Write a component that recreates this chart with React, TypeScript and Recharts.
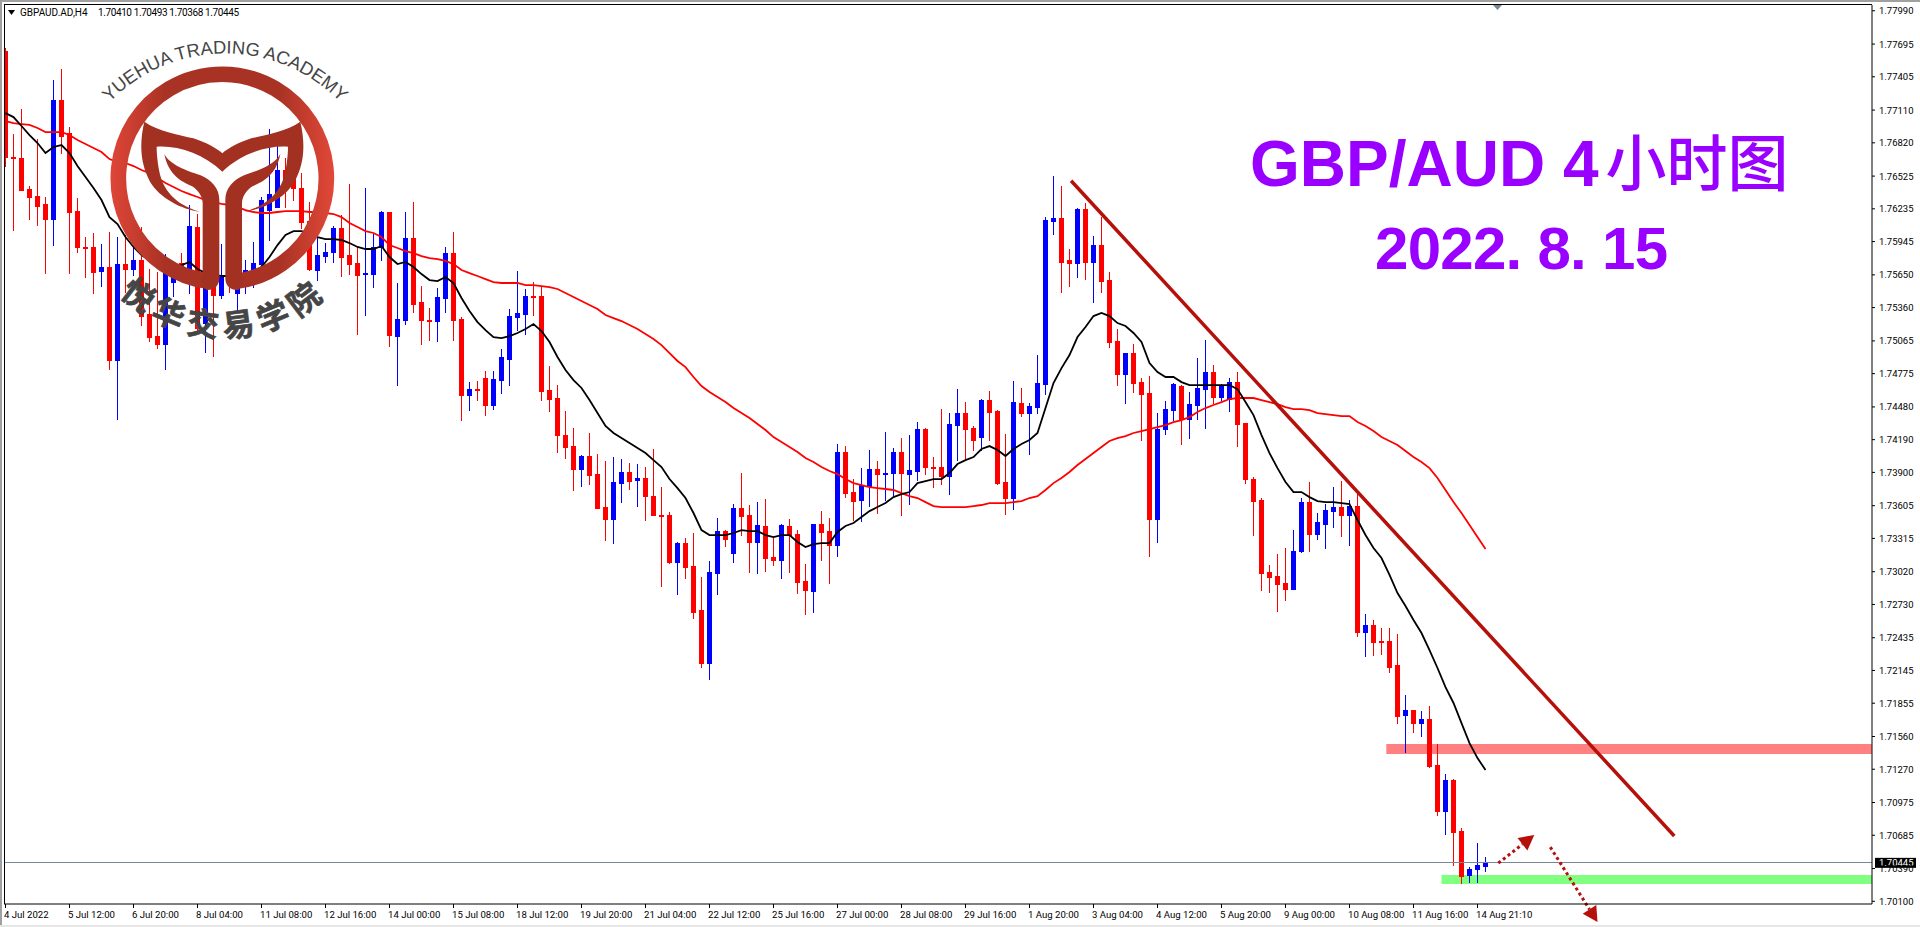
import React from "react";
import {
  ComposedChart,
  Bar,
  Line,
  XAxis,
  YAxis,
  ReferenceArea,
  ReferenceLine,
} from "recharts";

const opens = [
  1.77633, 1.76694, 1.76685, 1.76411, 1.76349, 1.76278, 1.76145, 1.77199, 1.76906, 1.76215,
  1.75897, 1.75897, 1.75684, 1.75719, 1.74895, 1.75746, 1.75702, 1.75781, 1.75303, 1.75108,
  1.75038, 1.75586, 1.75755, 1.75666, 1.76074, 1.75223, 1.75693, 1.75471, 1.75693, 1.7549,
  1.75604, 1.75631, 1.75746, 1.76224, 1.76251, 1.76579, 1.76552, 1.76419, 1.76127, 1.75693,
  1.75817, 1.75852, 1.76065, 1.75826, 1.75755, 1.75657, 1.75657, 1.75897, 1.76206, 1.75108,
  1.7525, 1.75977, 1.75409, 1.7525, 1.75241, 1.75445, 1.75843, 1.75259, 1.74586, 1.74639,
  1.74736, 1.74497, 1.74718, 1.74904, 1.75276, 1.75303, 1.75462, 1.75462, 1.7463, 1.74559,
  1.74231, 1.74133, 1.73929, 1.74045, 1.73885, 1.73593, 1.73487, 1.73805, 1.73903, 1.73832,
  1.7385, 1.7369, 1.73522, 1.73522, 1.73105, 1.73274, 1.7307, 1.7268, 1.72211, 1.73008,
  1.7338, 1.73185, 1.73584, 1.73522, 1.73283, 1.73425, 1.7315, 1.73123, 1.73425, 1.73354,
  1.72937, 1.72849, 1.73442, 1.7338, 1.73256, 1.7408, 1.73726, 1.73655, 1.73779, 1.73929,
  1.73885, 1.73894, 1.7408, 1.73885, 1.73912, 1.74284, 1.73947, 1.73947, 1.73868, 1.74319,
  1.74426, 1.74293, 1.74213, 1.74541, 1.74443, 1.73815, 1.73673, 1.74514, 1.74426, 1.74479,
  1.74683, 1.76127, 1.76154, 1.75781, 1.75755, 1.76233, 1.75764, 1.75914, 1.75604, 1.75064,
  1.74771, 1.74957, 1.747, 1.74603, 1.73487, 1.74284, 1.74452, 1.74665, 1.74373, 1.74497,
  1.74639, 1.74789, 1.74568, 1.7455, 1.747, 1.74337, 1.73841, 1.73655, 1.73017, 1.72981,
  1.72919, 1.72866, 1.73203, 1.73637, 1.73354, 1.73442, 1.73557, 1.73593, 1.73522, 1.73602,
  1.72485, 1.72548, 1.72406, 1.72406, 1.72193, 1.7175, 1.71794, 1.71679, 1.71714, 1.71307,
  1.709, 1.71174, 1.70722, 1.70332, 1.70385, 1.7041,
];

const closes = [
  1.76694, 1.76685, 1.76402, 1.7634, 1.7626, 1.76145, 1.77199, 1.7688, 1.76206, 1.75897,
  1.75888, 1.75675, 1.75719, 1.74895, 1.75746, 1.75702, 1.75781, 1.75285, 1.75099, 1.75038,
  1.75693, 1.75711, 1.75702, 1.76082, 1.75179, 1.7556, 1.75471, 1.75631, 1.75648, 1.75631,
  1.75693, 1.75755, 1.76313, 1.76366, 1.76579, 1.76419, 1.76419, 1.76118, 1.75702, 1.75826,
  1.75852, 1.76065, 1.75808, 1.75746, 1.75648, 1.75666, 1.75897, 1.76206, 1.75117, 1.75259,
  1.75977, 1.75392, 1.7525, 1.75241, 1.75454, 1.75843, 1.7525, 1.74586, 1.74639, 1.7463,
  1.74497, 1.74727, 1.74922, 1.75285, 1.75312, 1.75462, 1.75454, 1.74621, 1.7455, 1.74231,
  1.74125, 1.73929, 1.74045, 1.73876, 1.73584, 1.73487, 1.73814, 1.73903, 1.73823, 1.7385,
  1.7369, 1.73522, 1.73513, 1.73105, 1.73274, 1.73061, 1.72662, 1.72211, 1.73017, 1.7338,
  1.7331, 1.73584, 1.73513, 1.73283, 1.73434, 1.73141, 1.73123, 1.73434, 1.73345, 1.72928,
  1.72858, 1.73442, 1.73371, 1.73256, 1.7408, 1.73717, 1.73646, 1.73788, 1.73929, 1.73885,
  1.73894, 1.7408, 1.73894, 1.73921, 1.74284, 1.73947, 1.73938, 1.73868, 1.74328, 1.74426,
  1.74284, 1.74187, 1.74541, 1.74434, 1.73805, 1.73673, 1.74523, 1.74426, 1.74488, 1.74692,
  1.76136, 1.76154, 1.75764, 1.75755, 1.76233, 1.75764, 1.75914, 1.75595, 1.75055, 1.74771,
  1.74957, 1.74692, 1.74594, 1.73487, 1.74284, 1.74461, 1.74683, 1.74373, 1.74505, 1.74647,
  1.74789, 1.74568, 1.74665, 1.747, 1.74328, 1.73841, 1.73646, 1.73008, 1.72973, 1.7291,
  1.72866, 1.73203, 1.73637, 1.73354, 1.7346, 1.73566, 1.73593, 1.73522, 1.73602, 1.72485,
  1.72548, 1.72397, 1.72397, 1.72175, 1.71741, 1.71794, 1.71679, 1.71714, 1.71298, 1.709,
  1.71174, 1.70714, 1.70323, 1.70385, 1.70421, 1.70445,
];

const highs = [
  1.7766, 1.76898, 1.77119, 1.76437, 1.76854, 1.7634, 1.77376, 1.77474, 1.7696, 1.76331,
  1.75985, 1.76021, 1.75923, 1.7603, 1.75985, 1.76003, 1.76047, 1.76074, 1.75702, 1.75675,
  1.75835, 1.75764, 1.75843, 1.76269, 1.76189, 1.75737, 1.75764, 1.75923, 1.75826, 1.75711,
  1.75781, 1.75941, 1.7634, 1.76942, 1.76818, 1.76685, 1.76667, 1.76552, 1.76295, 1.76021,
  1.75932, 1.76082, 1.7618, 1.76455, 1.75897, 1.76419, 1.76012, 1.76215, 1.76206, 1.75578,
  1.76206, 1.76295, 1.75551, 1.75356, 1.75533, 1.75897, 1.7603, 1.75276, 1.747, 1.74709,
  1.74798, 1.74798, 1.74993, 1.75347, 1.75684, 1.75525, 1.75586, 1.75542, 1.74842, 1.74674,
  1.74443, 1.74293, 1.74054, 1.74249, 1.74062, 1.74, 1.74036, 1.74018, 1.73983, 1.73974,
  1.73947, 1.74107, 1.7377, 1.73549, 1.73283, 1.73318, 1.73363, 1.72973, 1.73115, 1.73496,
  1.73389, 1.73619, 1.73894, 1.73611, 1.73637, 1.73664, 1.73327, 1.73442, 1.73487, 1.73389,
  1.73088, 1.73442, 1.73557, 1.73496, 1.74151, 1.74133, 1.73841, 1.73938, 1.74098, 1.74,
  1.74257, 1.74116, 1.74204, 1.74231, 1.74346, 1.74293, 1.74036, 1.74461, 1.74426, 1.74639,
  1.74523, 1.74311, 1.7455, 1.74621, 1.74452, 1.7424, 1.74709, 1.74647, 1.74514, 1.7494,
  1.76162, 1.76526, 1.76437, 1.75879, 1.76242, 1.76287, 1.75994, 1.76162, 1.75675, 1.7517,
  1.74957, 1.75038, 1.74736, 1.74754, 1.74426, 1.74532, 1.74692, 1.74674, 1.74612, 1.74913,
  1.75073, 1.74851, 1.74683, 1.74736, 1.74789, 1.74337, 1.73859, 1.73673, 1.73079, 1.73177,
  1.7323, 1.73389, 1.73673, 1.73815, 1.7354, 1.73619, 1.7377, 1.73824, 1.73655, 1.73708,
  1.72645, 1.72592, 1.72521, 1.72521, 1.72468, 1.71927, 1.71794, 1.71785, 1.7183, 1.71493,
  1.71227, 1.71183, 1.70748, 1.70403, 1.70616, 1.70493,
];

const lows = [
  1.76614, 1.76047, 1.76402, 1.76145, 1.76092, 1.75666, 1.75914, 1.76729, 1.75666, 1.75852,
  1.75631, 1.7549, 1.75551, 1.74816, 1.74373, 1.75498, 1.75648, 1.75206, 1.75064, 1.75002,
  1.74816, 1.75462, 1.75648, 1.7549, 1.75135, 1.74966, 1.74931, 1.75445, 1.75498, 1.75338,
  1.7549, 1.75542, 1.75675, 1.75959, 1.76251, 1.76251, 1.76313, 1.76065, 1.75693, 1.75604,
  1.75764, 1.75764, 1.7564, 1.75657, 1.75126, 1.75294, 1.75542, 1.75781, 1.7502, 1.74674,
  1.75214, 1.75321, 1.75038, 1.75073, 1.75064, 1.75321, 1.75073, 1.74364, 1.74452, 1.74541,
  1.74408, 1.74461, 1.74603, 1.74674, 1.75161, 1.75126, 1.75294, 1.74541, 1.74443, 1.7408,
  1.74027, 1.73744, 1.73779, 1.73797, 1.73584, 1.73301, 1.73274, 1.73637, 1.73753, 1.73602,
  1.73478, 1.73522, 1.72893, 1.73097, 1.72822, 1.72964, 1.72609, 1.72175, 1.72069, 1.72822,
  1.73248, 1.73105, 1.73345, 1.73017, 1.73008, 1.73026, 1.73079, 1.72964, 1.73017, 1.72831,
  1.72645, 1.72662, 1.73123, 1.72919, 1.73159, 1.73682, 1.73478, 1.73469, 1.73602, 1.7354,
  1.73655, 1.73699, 1.73522, 1.73619, 1.73832, 1.73885, 1.7377, 1.73797, 1.73708, 1.74009,
  1.74009, 1.74098, 1.74098, 1.74187, 1.73797, 1.73531, 1.73575, 1.74399, 1.74062, 1.74426,
  1.74594, 1.76012, 1.75498, 1.75551, 1.75631, 1.75613, 1.75409, 1.75498, 1.75011, 1.74674,
  1.74514, 1.74612, 1.74187, 1.73159, 1.73283, 1.7424, 1.74364, 1.74151, 1.74204, 1.74373,
  1.74293, 1.74514, 1.74541, 1.74443, 1.74133, 1.73805, 1.73345, 1.72858, 1.7284, 1.72671,
  1.72769, 1.72866, 1.73194, 1.73203, 1.7331, 1.7323, 1.73416, 1.73336, 1.73256, 1.7245,
  1.72273, 1.72282, 1.72291, 1.72131, 1.71679, 1.71422, 1.716, 1.71564, 1.7129, 1.70864,
  1.70696, 1.70421, 1.70262, 1.7027, 1.7027, 1.70368,
];

const blackMA = [
  1.77083, 1.77048, 1.76969, 1.76889, 1.76818, 1.76729, 1.76783, 1.768, 1.76729, 1.76614,
  1.76517, 1.76419, 1.76313, 1.76162, 1.761, 1.75985, 1.75897, 1.75826, 1.75781, 1.75755,
  1.75719, 1.75719, 1.75737, 1.75764, 1.75702, 1.75666, 1.75648, 1.7564, 1.7564, 1.7564,
  1.75648, 1.75675, 1.75719, 1.75808, 1.75914, 1.76003, 1.76038, 1.76038, 1.76021, 1.75985,
  1.75967, 1.75967, 1.75959, 1.75932, 1.75897, 1.75879, 1.75879, 1.75906, 1.75808, 1.75746,
  1.75764, 1.75719, 1.75657, 1.75604, 1.75595, 1.75631, 1.75578, 1.75445, 1.7533, 1.75232,
  1.75161, 1.75099, 1.7509, 1.75108, 1.75135, 1.7517, 1.75214, 1.75152, 1.75055, 1.74922,
  1.74807, 1.74718, 1.74648, 1.74541, 1.74426, 1.74311, 1.74249, 1.74204, 1.7416, 1.74116,
  1.74071, 1.74009, 1.73947, 1.73841, 1.73761, 1.73673, 1.7354, 1.73389, 1.73345, 1.73345,
  1.73345, 1.73363, 1.73389, 1.7338, 1.7338, 1.73345, 1.73327, 1.73345, 1.73345, 1.73283,
  1.73239, 1.73265, 1.73274, 1.73274, 1.73372, 1.73425, 1.73451, 1.73504, 1.73557, 1.73593,
  1.73628, 1.73681, 1.73708, 1.73726, 1.73805, 1.73823, 1.73841, 1.73841, 1.73894, 1.73974,
  1.74009, 1.74036, 1.74107, 1.74133, 1.74098, 1.74045, 1.74107, 1.74151, 1.74187, 1.74249,
  1.7447, 1.74692, 1.74824, 1.7494, 1.75099, 1.75188, 1.75285, 1.75312, 1.75285, 1.75223,
  1.75197, 1.75135, 1.75055, 1.74869, 1.74789, 1.74745, 1.74745, 1.747, 1.74674, 1.74674,
  1.74674, 1.74674, 1.74674, 1.74674, 1.74638, 1.74523, 1.74408, 1.74231, 1.74071, 1.73938,
  1.73815, 1.73726, 1.73726, 1.73681, 1.73646, 1.73637, 1.73637, 1.73628, 1.73619, 1.73478,
  1.73345, 1.7323, 1.73141, 1.72991, 1.72831, 1.72716, 1.72592, 1.72477, 1.72326, 1.72167,
  1.71998, 1.71857, 1.71679, 1.71502, 1.71369, 1.71263,
];

const redMA = [
  1.77013, 1.76995, 1.76986, 1.76978, 1.76951, 1.76915, 1.76915, 1.76915, 1.76889, 1.76845,
  1.76809, 1.76774, 1.76738, 1.76676, 1.7665, 1.76641, 1.76614, 1.76579, 1.76552, 1.76508,
  1.76464, 1.76428, 1.76393, 1.76366, 1.7634, 1.76313, 1.76295, 1.76278, 1.76269, 1.76251,
  1.76224, 1.76207, 1.76198, 1.76198, 1.76207, 1.76215, 1.76215, 1.76215, 1.76207, 1.76207,
  1.76198, 1.76189, 1.76162, 1.76109, 1.76074, 1.76038, 1.76021, 1.75985, 1.75914, 1.75888,
  1.75861, 1.75843, 1.75817, 1.75799, 1.7579, 1.75773, 1.75746, 1.75693, 1.75666, 1.7564,
  1.75613, 1.75586, 1.75578, 1.75578, 1.75578, 1.7556, 1.7556, 1.75551, 1.75542, 1.75525,
  1.75489, 1.75454, 1.75418, 1.75383, 1.75347, 1.75294, 1.75267, 1.75241, 1.75206, 1.7517,
  1.75126, 1.75082, 1.75028, 1.74957, 1.74887, 1.74833, 1.74745, 1.74665, 1.74612, 1.74567,
  1.74523, 1.7447, 1.74426, 1.74381, 1.74328, 1.74275, 1.74213, 1.74169, 1.74125, 1.7408,
  1.74027, 1.73992, 1.73947, 1.73912, 1.73885, 1.73841, 1.73805, 1.73788, 1.7377, 1.73761,
  1.73753, 1.73744, 1.73717, 1.7369, 1.73673, 1.73637, 1.73602, 1.73593, 1.73593, 1.73593,
  1.73593, 1.73602, 1.73611, 1.73628, 1.73628, 1.73628, 1.73637, 1.73646, 1.73673, 1.7369,
  1.73744, 1.73805, 1.7385, 1.73903, 1.73965, 1.74018, 1.74071, 1.74125, 1.74178, 1.74204,
  1.74222, 1.74249, 1.74266, 1.74284, 1.74302, 1.74319, 1.74346, 1.74364, 1.7439, 1.74435,
  1.7447, 1.74497, 1.74523, 1.7455, 1.74559, 1.74559, 1.74559, 1.74541, 1.74523, 1.74505,
  1.74479, 1.74461, 1.74461, 1.74452, 1.74426, 1.74417, 1.74408, 1.74399, 1.74399, 1.74346,
  1.74311, 1.74266, 1.74213, 1.74178, 1.74143, 1.74089, 1.74036, 1.73992, 1.73938, 1.7385,
  1.73744, 1.73637, 1.7354, 1.73434, 1.73327, 1.73221,
];

const yTicks = [
  1.7799, 1.77695, 1.77405, 1.7711, 1.7682, 1.76525, 1.76235, 1.75945, 1.7565, 1.7536,
  1.75065, 1.74775, 1.7448, 1.7419, 1.739, 1.73605, 1.73315, 1.7302, 1.7273, 1.72435,
  1.72145, 1.71855, 1.7156, 1.7127, 1.70975, 1.70685, 1.7039, 1.701,
];

const xTickLabels = [
  "4 Jul 2022", "5 Jul 12:00", "6 Jul 20:00", "8 Jul 04:00", "11 Jul 08:00", "12 Jul 16:00",
  "14 Jul 00:00", "15 Jul 08:00", "18 Jul 12:00", "19 Jul 20:00", "21 Jul 04:00", "22 Jul 12:00",
  "25 Jul 16:00", "27 Jul 00:00", "28 Jul 08:00", "29 Jul 16:00", "1 Aug 20:00", "3 Aug 04:00",
  "4 Aug 12:00", "5 Aug 20:00", "9 Aug 00:00", "10 Aug 08:00", "11 Aug 16:00", "14 Aug 21:10",
];
const xTickEvery = 8;

const lastPrice = 1.70445;
const resistanceBand = { x1: 172.6, x2: 233.3, y1: 1.71404, y2: 1.71493 };
const supportBand = { x1: 179.5, x2: 233.3, y1: 1.70253, y2: 1.70332 };
const trendLine = [{ x: 133.2, y: 1.76484 }, { x: 208.6, y: 1.70678 }];
const upArrow = [{ x: 186.6, y: 1.70438 }, { x: 191.1, y: 1.70687 }];
const downArrow = [{ x: 193.1, y: 1.70580 }, { x: 199, y: 1.69916 }];

const RED = "#ff0000";
const BLUE = "#0000ff";
const DARK_RED = "#b5100a";
const PURPLE = "#9900ff";
const AXIS_FONT = "Roboto, sans-serif";

const rows = opens.map((open, i) => ({
  i,
  open,
  close: closes[i],
  high: highs[i],
  low: lows[i],
  range: [lows[i], highs[i]],
  black: blackMA[i],
  red: redMA[i],
}));

const xTicks = xTickLabels.map((_, k) => k * xTickEvery);

function Candle(props: any) {
  const { x, y, width, height, payload } = props;
  if (!payload) return null;
  const { open, close, high, low } = payload;
  const h = Math.abs(height);
  const top = height >= 0 ? y : y + height;
  const k = h / (high - low);
  const cx = x + width / 2;
  const bodyTop = top + (high - Math.max(open, close)) * k;
  const bodyH = Math.max(1, Math.abs(open - close) * k + 1);
  const color = close > open ? BLUE : RED;
  return (
    <g shapeRendering="crispEdges">
      <rect x={cx - 0.5} y={top} width={1} height={h + 1} fill={color} />
      <rect x={cx - 2.5} y={bodyTop} width={5} height={bodyH} fill={color} />
    </g>
  );
}

function XTick(props: any) {
  const { x, y, payload } = props;
  const label = xTickLabels[Math.round(payload.value / xTickEvery)];
  return (
    <text x={x - 1.5} y={y + 8} fontFamily={AXIS_FONT} fontSize={9.6} fill="#000" textAnchor="start">
      {label}
    </text>
  );
}

function YTick(props: any) {
  const { x, y, payload } = props;
  return (
    <text x={x} y={y + 3.5} fontFamily={AXIS_FONT} fontSize={9.5} fill="#000" textAnchor="start">
      {payload.value.toFixed(5)}
    </text>
  );
}

function PriceLine(props: any) {
  const { x1, y1, x2, y2 } = props;
  const left = Math.min(x1, x2);
  const right = Math.max(x1, x2);
  return (
    <g>
      <line x1={left} y1={y1} x2={right} y2={y2} stroke="#778899" strokeWidth={1} shapeRendering="crispEdges" />
      <rect x={right + 3} y={y1 - 4.5} width={41} height={10} fill="#000" />
      <text x={right + 7} y={y1 + 4} fontFamily={AXIS_FONT} fontSize={9.5} fill="#fff">
        {lastPrice.toFixed(5)}
      </text>
    </g>
  );
}

function Arrow(props: any) {
  const { x1, y1, x2, y2 } = props;
  const len = Math.hypot(x2 - x1, y2 - y1);
  const ux = (x2 - x1) / len;
  const uy = (y2 - y1) / len;
  const headL = 15;
  const headW = 8;
  const bx = x2 - ux * headL;
  const by = y2 - uy * headL;
  return (
    <g>
      <line x1={x1} y1={y1} x2={bx} y2={by} stroke={DARK_RED} strokeWidth={3} strokeDasharray="3 3" />
      <polygon
        points={`${x2},${y2} ${bx - uy * headW},${by + ux * headW} ${bx + uy * headW},${by - ux * headW}`}
        fill={DARK_RED}
      />
    </g>
  );
}

function Logo() {
  const grey = "#454545";
  const wing =
    "M433,365 C475,395 540,405 580,415 C620,428 650,445 667,460 C684,445 714,428 754,415 C794,405 859,395 901,365 " +
    "C916,430 914,490 884,545 C854,595 789,628 734,635 C789,620 844,585 857,510 C862,480 864,460 864,440 " +
    "C804,435 724,460 667,515 C610,460 530,435 470,440 C470,460 472,480 477,510 C490,585 545,620 600,635 " +
    "C545,628 480,595 450,545 C420,490 418,430 433,365 Z";
  const leftStem =
    "M493,462 C510,495 560,512 600,525 C635,540 658,565 658,600 L658,835 C658,860 640,872 618,870 L600,830 L608,830 L608,610 " +
    "C608,590 595,570 575,558 C545,545 505,525 493,462 Z";
  const rightStem =
    "M841,462 C824,495 774,512 734,525 C699,540 676,565 676,600 L676,835 C676,860 694,872 716,870 L734,830 L726,830 L726,610 " +
    "C726,590 739,570 759,558 C789,545 829,525 841,462 Z";
  return (
    <g transform="scale(0.33333)">
      <defs>
        <linearGradient id="ringGrad" x1="330" x2="1003" y1="0" y2="0" gradientUnits="userSpaceOnUse">
          <stop offset="0" stopColor="#df4638" />
          <stop offset="0.25" stopColor="#a83224" />
          <stop offset="0.75" stopColor="#a83224" />
          <stop offset="1" stopColor="#e24838" />
        </linearGradient>
        <path id="logoTop" d="M237,440 A483,483 0 0 1 1113,440" />
        <path id="logoBottom" d="M345,868 A445,445 0 0 0 999,868" />
      </defs>
      <path
        d="M625,844 A312,312 0 1 1 709,844"
        fill="none"
        stroke="url(#ringGrad)"
        strokeWidth={47}
      />
      <path d={wing} fill="#a33122" />
      <path d={leftStem} fill="#a33122" />
      <path d={rightStem} fill="#a33122" />
      <text fontFamily="'Liberation Sans', sans-serif" fontSize={55} fill={grey}>
        <textPath href="#logoTop" startOffset="50%" textAnchor="middle">
          YUEHUA TRADING ACADEMY
        </textPath>
      </text>
      <text
        fontFamily="'Noto Sans CJK SC', sans-serif"
        fontSize={96}
        fontWeight={700}
        fill={grey}
        stroke={grey}
        strokeWidth={2}
        letterSpacing={20}
      >
        <textPath href="#logoBottom" startOffset="50%" textAnchor="middle">
          悦华交易学院
        </textPath>
      </text>
    </g>
  );
}

function Overlay() {
  return (
    <svg
      width={1920}
      height={927}
      style={{ position: "absolute", left: 0, top: 0, pointerEvents: "none" }}
    >
      <rect x={0} y={0} width={1920} height={2} fill="#a0a0a0" />
      <rect x={0} y={0} width={2} height={927} fill="#a0a0a0" />
      <rect x={0} y={925} width={1920} height={2} fill="#e6e6e6" />
      <rect x={4} y={4} width={1868} height={1} fill="#000" />
      <rect x={4} y={4} width={1} height={900} fill="#000" />
      <polygon points="1493,5 1502,5 1497.5,10" fill="#778899" />
      <polygon points="8,10 15,10 11.5,15" fill="#000" />
      <text x={20} y={16} fontFamily={AXIS_FONT} fontSize={10} fill="#000">
        GBPAUD.AD,H4
      </text>
      <text x={98} y={16} fontFamily={AXIS_FONT} fontSize={10} fill="#000" textLength={141}>
        1.70410 1.70493 1.70368 1.70445
      </text>
      <text x={1250} y={186} fontSize={64} fontWeight={700} fill={PURPLE} fontFamily="'Liberation Sans', sans-serif">
        GBP/AUD 4
        <tspan dx={7} fontFamily="'Noto Sans CJK SC', sans-serif" fontSize={61} fontWeight={500}>
          小时图
        </tspan>
      </text>
      <text
        x={1375}
        y={269}
        fontSize={60}
        fontWeight={700}
        fill={PURPLE}
        fontFamily="'Liberation Sans', sans-serif"
        textLength={293}
      >
        2022. 8. 15
      </text>
      <Logo />
    </svg>
  );
}

export default function App() {
  return (
    <div style={{ position: "absolute", left: 0, top: 0, width: 1920, height: 927, background: "#fff", overflow: "hidden" }}>
      <ComposedChart
        width={1920}
        height={927}
        data={rows}
        margin={{ top: 5, right: 0, bottom: 0, left: 4 }}
        barGap={0}
      >
        <XAxis
          type="number"
          dataKey="i"
          domain={[-0.1875, 233.3125]}
          ticks={xTicks}
          interval={0}
          height={23}
          tick={<XTick />}
          tickSize={4}
          tickMargin={2}
          axisLine={{ stroke: "#000" }}
          tickLine={{ stroke: "#000" }}
          allowDataOverflow
        />
        <YAxis
          type="number"
          orientation="right"
          domain={[1.70076, 1.78041]}
          ticks={yTicks}
          interval={0}
          width={48}
          tick={<YTick />}
          tickSize={3}
          tickMargin={4}
          axisLine={{ stroke: "#000" }}
          tickLine={{ stroke: "#000" }}
          allowDataOverflow
        />
        <ReferenceArea {...resistanceBand} fill="#ff8080" fillOpacity={1} stroke="none" ifOverflow="visible" />
        <ReferenceArea {...supportBand} fill="#80ff80" fillOpacity={1} stroke="none" ifOverflow="visible" />
        <ReferenceLine y={lastPrice} shape={<PriceLine />} ifOverflow="visible" />
        <Bar dataKey="range" barSize={5} shape={<Candle />} isAnimationActive={false} />
        <Line dataKey="red" type="linear" stroke="#ff0000" strokeWidth={1.8} dot={false} isAnimationActive={false} />
        <Line dataKey="black" type="linear" stroke="#000000" strokeWidth={1.8} dot={false} isAnimationActive={false} />
        <ReferenceLine segment={trendLine} stroke={DARK_RED} strokeWidth={3.5} ifOverflow="visible" />
        <ReferenceLine segment={upArrow} shape={<Arrow />} ifOverflow="visible" />
        <ReferenceLine segment={downArrow} shape={<Arrow />} ifOverflow="visible" />
      </ComposedChart>
      <Overlay />
    </div>
  );
}
